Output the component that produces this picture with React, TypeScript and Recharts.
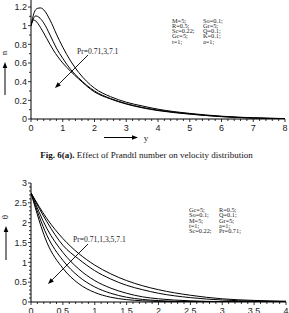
import { LineChart, Line, XAxis, YAxis } from "recharts";

// velocity profiles u(y) for Pr = 0.71, 3, 7.1
const U_PR071 = [
  { y: 0, u: 1.0 }, { y: 0.1, u: 1.14 }, { y: 0.2, u: 1.185 }, { y: 0.3, u: 1.19 },
  { y: 0.4, u: 1.17 }, { y: 0.6, u: 1.06 }, { y: 0.8, u: 0.91 }, { y: 1, u: 0.77 },
  { y: 1.25, u: 0.62 }, { y: 1.5, u: 0.5 }, { y: 2, u: 0.33 }, { y: 2.5, u: 0.24 },
  { y: 3, u: 0.18 }, { y: 3.5, u: 0.14 }, { y: 4, u: 0.105 }, { y: 5, u: 0.06 },
  { y: 6, u: 0.03 }, { y: 7, u: 0.013 }, { y: 8, u: 0.005 },
];
const U_PR3 = [
  { y: 0, u: 1.0 }, { y: 0.1, u: 1.09 }, { y: 0.15, u: 1.105 }, { y: 0.25, u: 1.09 },
  { y: 0.4, u: 1.03 }, { y: 0.6, u: 0.9 }, { y: 0.8, u: 0.76 }, { y: 1, u: 0.65 },
  { y: 1.25, u: 0.53 }, { y: 1.5, u: 0.44 }, { y: 2, u: 0.3 }, { y: 2.5, u: 0.22 },
  { y: 3, u: 0.165 }, { y: 3.5, u: 0.125 }, { y: 4, u: 0.095 }, { y: 5, u: 0.055 },
  { y: 6, u: 0.027 }, { y: 7, u: 0.011 }, { y: 8, u: 0.004 },
];
const U_PR71 = [
  { y: 0, u: 1.0 }, { y: 0.07, u: 1.06 }, { y: 0.15, u: 1.05 }, { y: 0.3, u: 0.98 },
  { y: 0.5, u: 0.86 }, { y: 0.7, u: 0.74 }, { y: 1, u: 0.6 }, { y: 1.25, u: 0.51 },
  { y: 1.5, u: 0.43 }, { y: 2, u: 0.29 }, { y: 2.5, u: 0.215 }, { y: 3, u: 0.16 },
  { y: 3.5, u: 0.12 }, { y: 4, u: 0.09 }, { y: 5, u: 0.052 }, { y: 6, u: 0.025 },
  { y: 7, u: 0.01 }, { y: 8, u: 0.004 },
];

// temperature profiles θ(y) for Pr = 0.71, 1, 3, 5, 7.1
const T_PR071 = [
  { y: 0, t: 2.75 }, { y: 0.25, t: 2.1 }, { y: 0.5, t: 1.6 }, { y: 0.75, t: 1.22 },
  { y: 1, t: 0.93 }, { y: 1.25, t: 0.71 }, { y: 1.5, t: 0.54 }, { y: 1.75, t: 0.41 },
  { y: 2, t: 0.31 }, { y: 2.5, t: 0.17 }, { y: 3, t: 0.08 }, { y: 3.5, t: 0.04 }, { y: 4, t: 0.02 },
];
const T_PR1 = [
  { y: 0, t: 2.75 }, { y: 0.25, t: 2.02 }, { y: 0.5, t: 1.43 }, { y: 0.75, t: 1.08 },
  { y: 1, t: 0.79 }, { y: 1.25, t: 0.58 }, { y: 1.5, t: 0.42 }, { y: 1.75, t: 0.31 },
  { y: 2, t: 0.22 }, { y: 2.5, t: 0.11 }, { y: 3, t: 0.05 }, { y: 3.5, t: 0.022 }, { y: 4, t: 0.01 },
];
const T_PR3 = [
  { y: 0, t: 2.75 }, { y: 0.25, t: 1.85 }, { y: 0.5, t: 1.25 }, { y: 0.75, t: 0.83 },
  { y: 1, t: 0.54 }, { y: 1.25, t: 0.35 }, { y: 1.5, t: 0.22 }, { y: 1.75, t: 0.13 },
  { y: 2, t: 0.08 }, { y: 2.5, t: 0.03 }, { y: 3, t: 0.01 }, { y: 3.5, t: 0.004 }, { y: 4, t: 0.002 },
];
const T_PR5 = [
  { y: 0, t: 2.75 }, { y: 0.25, t: 1.68 }, { y: 0.5, t: 1.05 }, { y: 0.75, t: 0.64 },
  { y: 1, t: 0.38 }, { y: 1.25, t: 0.22 }, { y: 1.5, t: 0.12 }, { y: 1.75, t: 0.065 },
  { y: 2, t: 0.035 }, { y: 2.5, t: 0.01 }, { y: 3, t: 0.003 }, { y: 4, t: 0 },
];
const T_PR71 = [
  { y: 0, t: 2.75 }, { y: 0.25, t: 1.5 }, { y: 0.5, t: 0.85 }, { y: 0.75, t: 0.46 },
  { y: 1, t: 0.24 }, { y: 1.25, t: 0.12 }, { y: 1.5, t: 0.06 }, { y: 1.75, t: 0.03 },
  { y: 2, t: 0.015 }, { y: 2.5, t: 0.004 }, { y: 3, t: 0.001 }, { y: 4, t: 0 },
];

const U_MAJOR_X = [0, 1, 2, 3, 4, 5, 6, 7, 8];
const U_MAJOR_Y = [0, 0.2, 0.4, 0.6, 0.8, 1, 1.2];
const T_MAJOR_X = [0, 0.5, 1, 1.5, 2, 2.5, 3, 3.5, 4];
const T_MAJOR_Y = [0, 0.5, 1, 1.5, 2, 2.5, 3];

const PARAMS_U = [
  ["M=5;", "So=0.1;"],
  ["R=0.5;", "Gr=5;"],
  ["Sc=0.22;", "Q=0.1;"],
  ["Gc=5;", "K=0.1;"],
  ["t=1;", "a=1;"],
];
const PARAMS_T = [
  ["Gc=5;", "R=0.5;"],
  ["So=0.1;", "Q=0.1;"],
  ["M=5;", "Gr=5;"],
  ["t=1;", "a=1;"],
  ["Sc=0.22;", "Pr=0.71;"],
];

const SANS = "Liberation Sans, Arial, sans-serif";
const SERIF = "Liberation Serif, Times New Roman, serif";

// majors plus evenly spaced minor ticks in between
function withMinors(majors: number[], step: number) {
  const out: number[] = [];
  const lo = majors[0];
  const hi = majors[majors.length - 1];
  const n = Math.round((hi - lo) / step);
  for (let i = 0; i <= n; i++) out.push(+(lo + i * step).toFixed(4));
  return out;
}

const isMajor = (v: number, majors: number[]) => majors.some((m) => Math.abs(m - v) < 1e-6);

function xTick(majors: number[]) {
  return (props: any) => {
    const { x, y, payload } = props;
    const major = isMajor(payload.value, majors);
    return (
      <g>
        <line x1={x} y1={y} x2={x} y2={y + (major ? 3 : 2)} stroke="#000" strokeWidth={0.8} />
        {major && (
          <text x={x} y={y + 12} textAnchor="middle" fontSize={9} fontFamily={SANS} fill="#222">
            {String(payload.value)}
          </text>
        )}
      </g>
    );
  };
}

function yTick(majors: number[]) {
  return (props: any) => {
    const { x, y, payload } = props;
    const major = isMajor(payload.value, majors);
    return (
      <g>
        <line x1={x} y1={y} x2={x - (major ? 3 : 2)} y2={y} stroke="#000" strokeWidth={0.8} />
        {major && (
          <text x={x - 4} y={y + 3.2} textAnchor="end" fontSize={9} fontFamily={SANS} fill="#222">
            {String(payload.value)}
          </text>
        )}
      </g>
    );
  };
}

function Arrow({ x1, y1, x2, y2, w = 1 }: { x1: number; y1: number; x2: number; y2: number; w?: number }) {
  const dx = x2 - x1;
  const dy = y2 - y1;
  const len = Math.hypot(dx, dy);
  const ux = dx / len;
  const uy = dy / len;
  const hl = 6;
  const hw = 2.3;
  const bx = x2 - ux * hl;
  const by = y2 - uy * hl;
  return (
    <g>
      <line x1={x1} y1={y1} x2={bx} y2={by} stroke="#000" strokeWidth={w} />
      <polygon
        points={`${x2},${y2} ${bx - uy * hw},${by + ux * hw} ${bx + uy * hw},${by - ux * hw}`}
        fill="#000"
      />
    </g>
  );
}

function Params({ rows, x, x2, y }: { rows: string[][]; x: number; x2: number; y: number }) {
  return (
    <g fontFamily={SERIF} fontSize={6.3} fill="#222">
      {rows.map((r, i) => (
        <text key={i} y={y + i * 5.3}>
          <tspan x={x}>{r[0]}</tspan>
          <tspan x={x2}>{r[1]}</tspan>
        </text>
      ))}
    </g>
  );
}

export default function App() {
  const line = { type: "monotone" as const, dot: false, stroke: "#000", strokeWidth: 1, isAnimationActive: false };
  return (
    <div style={{ position: "absolute", left: 0, top: 0, width: 289, height: 313, overflow: "hidden", background: "#fff" }}>
      {/* velocity */}
      <div style={{ position: "absolute", left: 0, top: 0 }}>
        <LineChart width={289} height={135} margin={{ top: 0, right: 4, bottom: 0, left: 0 }}>
          <XAxis
            type="number"
            dataKey="y"
            domain={[0, 8]}
            ticks={withMinors(U_MAJOR_X, 0.2)}
            interval={0}
            tickSize={0}
            tickMargin={0}
            tick={xTick(U_MAJOR_X)}
            height={16}
            stroke="#000"
            allowDataOverflow
          />
          <YAxis
            type="number"
            dataKey="u"
            domain={[0, 1.275]}
            ticks={withMinors(U_MAJOR_Y, 0.1)}
            interval={0}
            tickSize={0}
            tickMargin={0}
            tick={yTick(U_MAJOR_Y)}
            width={31}
            stroke="#000"
            allowDataOverflow
          />
          <Line data={U_PR071} dataKey="u" {...line} />
          <Line data={U_PR3} dataKey="u" {...line} />
          <Line data={U_PR71} dataKey="u" {...line} />
        </LineChart>
      </div>

      {/* temperature */}
      <div style={{ position: "absolute", left: 0, top: 178 }}>
        <LineChart width={289} height={140} margin={{ top: 5, right: 3, bottom: 0, left: 0 }}>
          <XAxis
            type="number"
            dataKey="y"
            domain={[0, 4]}
            ticks={withMinors(T_MAJOR_X, 0.1)}
            interval={0}
            tickSize={0}
            tickMargin={0}
            tick={xTick(T_MAJOR_X)}
            height={16}
            stroke="#000"
            allowDataOverflow
          />
          <YAxis
            type="number"
            dataKey="t"
            domain={[0, 3]}
            ticks={withMinors(T_MAJOR_Y, 0.1)}
            interval={0}
            tickSize={0}
            tickMargin={0}
            tick={yTick(T_MAJOR_Y)}
            width={31}
            stroke="#000"
            allowDataOverflow
          />
          <Line data={T_PR071} dataKey="t" {...line} />
          <Line data={T_PR1} dataKey="t" {...line} />
          <Line data={T_PR3} dataKey="t" {...line} />
          <Line data={T_PR5} dataKey="t" {...line} />
          <Line data={T_PR71} dataKey="t" {...line} />
        </LineChart>
      </div>

      <svg width={289} height={313} style={{ position: "absolute", left: 0, top: 0, pointerEvents: "none" }}>
        {/* axis titles */}
        <text x={5} y={53} fontFamily={SERIF} fontSize={9} fill="#222" textAnchor="middle" dominantBaseline="middle" transform="rotate(90 5 53)">
          u
        </text>
        <Arrow x1={5} y1={95} x2={5} y2={62} />
        <Arrow x1={104} y1={137.5} x2={138} y2={137.5} />
        <text x={146} y={140.5} fontFamily={SERIF} fontSize={9} fill="#222" textAnchor="middle">y</text>

        <text x={6} y={217} fontFamily={SERIF} fontSize={9} fill="#222" textAnchor="middle" dominantBaseline="middle" transform="rotate(-90 6 217)">
          θ
        </text>
        <Arrow x1={6} y1={260} x2={6} y2={226} />

        {/* Pr annotations */}
        <text x={77} y={53.5} fontFamily={SERIF} fontSize={7.6} fill="#222">Pr=0.71,3,7.1</text>
        <Arrow x1={88} y1={55} x2={55} y2={88} w={0.9} />
        <text x={73} y={242} fontFamily={SERIF} fontSize={7.6} fill="#222">Pr=0.71,1,3,5,7.1</text>
        <Arrow x1={88} y1={244} x2={48} y2={284} w={0.9} />

        <Params rows={PARAMS_U} x={172} x2={203} y={22.5} />
        <Params rows={PARAMS_T} x={189} x2={219} y={212} />

        {/* caption */}
        <text x={146.5} y={158} textAnchor="middle" fontFamily={SERIF} fontSize={9} fill="#111">
          <tspan fontWeight="bold">Fig. 6(a).</tspan>
          <tspan> Effect of Prandtl number on velocity distribution</tspan>
        </text>
      </svg>
    </div>
  );
}
